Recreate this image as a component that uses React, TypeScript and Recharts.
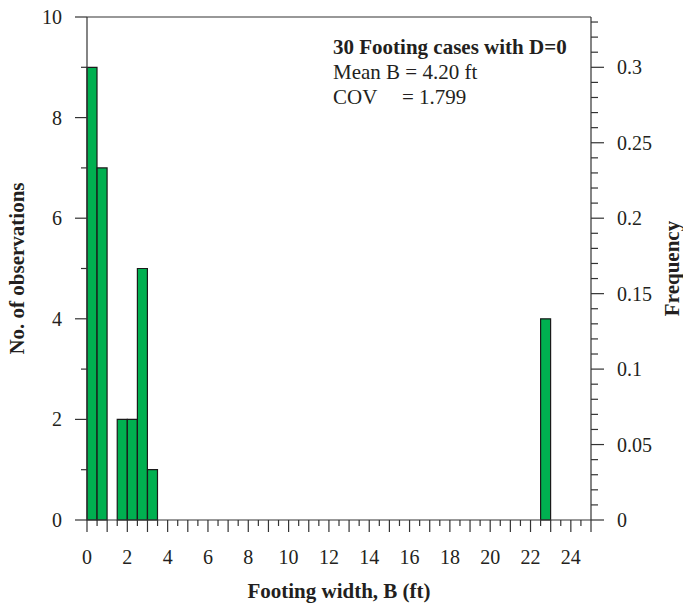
import React from "react";
import { Bar, ComposedChart, Customized, Label, ReferenceLine, XAxis, YAxis } from "recharts";

// histogram bins (ft), bin width 0.5, only non-empty bins listed
const binStarts = [0, 0.5, 1.5, 2, 2.5, 3, 22.5];
const binCounts = [9, 7, 2, 2, 5, 1, 4];
const binWidth = 0.5;
const xMax = 25;
const totalCases = 30;

const xTicks = Array.from({ length: xMax / binWidth + 1 }, (_, i) => i * binWidth);
const leftTicks = [0, 1, 2, 3, 4, 5, 6, 7, 8, 9, 10];
const rightTicks = Array.from({ length: 34 }, (_, i) => i / 100);

const notes = ["30 Footing cases with D=0", "Mean B = 4.20 ft", "COV", "= 1.799"];

const data = xTicks.slice(0, -1).map((start) => {
  const idx = binStarts.indexOf(start);
  return { bin: start, count: idx >= 0 ? binCounts[idx] : 0 };
});

const FONT = "'Liberation Serif', 'Times New Roman', serif";
const INK = "#231f20";
const AXIS = "#333";

function XTick({ x, y, payload }: any) {
  const v = payload.value;
  const major = Number.isInteger(v);
  const labelled = v % 2 === 0 && v <= 24;
  return (
    <g>
      <line x1={x} y1={y} x2={x} y2={y + (major ? 12 : 6)} stroke={AXIS} strokeWidth={1.2} />
      {labelled && (
        <text x={x} y={y + 44} textAnchor="middle" fontFamily={FONT} fontSize={20} fill={INK}>
          {v}
        </text>
      )}
    </g>
  );
}

function LeftTick({ x, y, payload }: any) {
  const v = payload.value;
  const major = v % 2 === 0;
  return (
    <g>
      <line x1={x} y1={y} x2={x - (major ? 12 : 6)} y2={y} stroke={AXIS} strokeWidth={1.2} />
      {major && (
        <text x={x - 25} y={y} dy="0.35em" textAnchor="end" fontFamily={FONT} fontSize={20} fill={INK}>
          {v}
        </text>
      )}
    </g>
  );
}

function RightTick({ x, y, payload }: any) {
  const v = payload.value;
  const major = Math.round(v * 100) % 5 === 0;
  return (
    <g>
      <line x1={x} y1={y} x2={x + (major ? 13 : 7)} y2={y} stroke={AXIS} strokeWidth={1.2} />
      {major && (
        <text x={x + 26} y={y} dy="0.35em" textAnchor="start" fontFamily={FONT} fontSize={20} fill={INK}>
          {parseFloat(v.toFixed(2))}
        </text>
      )}
    </g>
  );
}

const Notes = () => (
  <g fontFamily={FONT} fontSize={21} fill={INK}>
    <text x={333} y={54} fontWeight="bold">{notes[0]}</text>
    <text x={333} y={79}>{notes[1]}</text>
    <text x={333} y={104}>{notes[2]}</text>
    <text x={402} y={104}>{notes[3]}</text>
  </g>
);

export default function App() {
  return (
    <div style={{ position: "absolute", left: 0, top: 0, background: "#fff" }}>
      <ComposedChart
        width={683}
        height={608}
        data={data}
        margin={{ top: 17, right: 0, bottom: 0, left: 0 }}
        barCategoryGap={0}
        barGap={0}
      >
        <XAxis xAxisId="cat" dataKey="bin" type="category" hide height={0} />
        <XAxis
          xAxisId="num"
          dataKey="bin"
          type="number"
          domain={[0, xMax]}
          ticks={xTicks}
          interval={0}
          allowDataOverflow
          height={88}
          tickSize={0}
          tickMargin={0}
          tick={<XTick />}
          axisLine={{ stroke: AXIS, strokeWidth: 1.2 }}
        >
          <Label
            content={({ viewBox }: any) => (
              <text
                x={viewBox.x + viewBox.width / 2}
                y={viewBox.y + 78}
                textAnchor="middle"
                fontFamily={FONT}
                fontSize={21}
                fontWeight="bold"
                fill={INK}
              >
                Footing width, B (ft)
              </text>
            )}
          />
        </XAxis>
        <YAxis
          yAxisId="left"
          domain={[0, 10]}
          ticks={leftTicks}
          interval={0}
          width={87}
          tickSize={0}
          tickMargin={0}
          tick={<LeftTick />}
          axisLine={{ stroke: AXIS, strokeWidth: 1.2 }}
        >
          <Label
            content={({ viewBox }: any) => {
              const cx = viewBox.x + 17;
              const cy = viewBox.y + viewBox.height / 2;
              return (
                <text
                  x={cx}
                  y={cy}
                  dy="0.35em"
                  transform={`rotate(-90 ${cx} ${cy})`}
                  textAnchor="middle"
                  fontFamily={FONT}
                  fontSize={21}
                  fontWeight="bold"
                  fill={INK}
                >
                  No. of observations
                </text>
              );
            }}
          />
        </YAxis>
        <YAxis
          yAxisId="right"
          orientation="right"
          domain={[0, 10 / totalCases]}
          ticks={rightTicks}
          interval={0}
          allowDataOverflow
          width={92}
          tickSize={0}
          tickMargin={0}
          tick={<RightTick />}
          axisLine={{ stroke: AXIS, strokeWidth: 1.2 }}
        >
          <Label
            content={({ viewBox }: any) => {
              const cx = viewBox.x + 81;
              const cy = viewBox.y + viewBox.height / 2;
              return (
                <text
                  x={cx}
                  y={cy}
                  dy="0.35em"
                  transform={`rotate(-90 ${cx} ${cy})`}
                  textAnchor="middle"
                  fontFamily={FONT}
                  fontSize={21}
                  fontWeight="bold"
                  fill={INK}
                >
                  Frequency
                </text>
              );
            }}
          />
        </YAxis>
        <ReferenceLine yAxisId="left" xAxisId="num" y={10} stroke={AXIS} strokeWidth={1.2} />
        <Bar
          dataKey="count"
          xAxisId="cat"
          yAxisId="left"
          fill="#00b050"
          stroke="#1a1a1a"
          strokeWidth={1.2}
          isAnimationActive={false}
        />
        <Customized component={Notes} />
      </ComposedChart>
    </div>
  );
}
